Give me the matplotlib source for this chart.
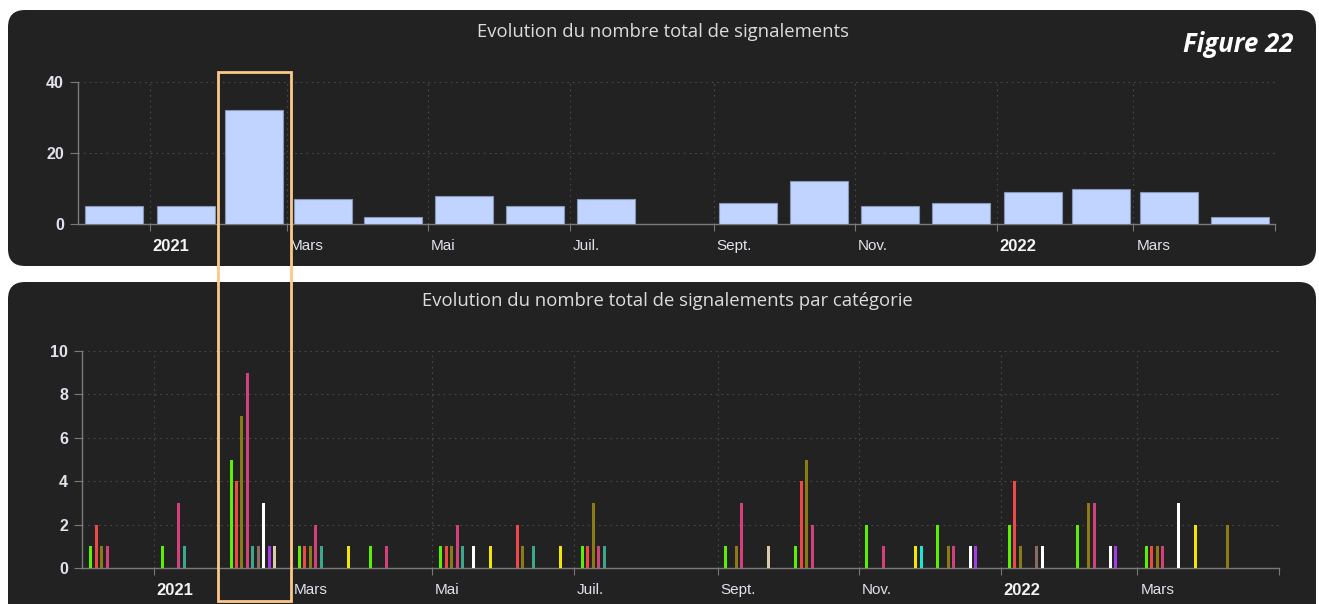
import datetime as dt

import matplotlib
matplotlib.use("Agg")
import matplotlib.pyplot as plt
import matplotlib.dates as mdates
from matplotlib.patches import FancyBboxPatch, Rectangle
from matplotlib.transforms import IdentityTransform, ScaledTranslation

# ---------------------------------------------------------------- data
mois = ["2020-12", "2021-01", "2021-02", "2021-03", "2021-04", "2021-05",
        "2021-06", "2021-07", "2021-08", "2021-09", "2021-10", "2021-11",
        "2021-12", "2022-01", "2022-02", "2022-03", "2022-04"]

total_signalements = [5, 5, 32, 7, 2, 8, 5, 7, 0, 6, 12, 5, 6, 9, 10, 9, 2]

# signalements par catégorie et par mois
cat_vert   = [1, 1, 5, 1, 1, 1, 0, 1, 0, 1, 1, 2, 2, 2, 2, 1, 0]
cat_rouge  = [2, 0, 4, 1, 0, 1, 2, 1, 0, 0, 4, 0, 0, 4, 0, 1, 0]
cat_olive  = [1, 0, 7, 1, 0, 1, 1, 3, 0, 1, 5, 0, 1, 1, 3, 1, 2]
cat_rose   = [1, 3, 9, 2, 1, 2, 0, 1, 0, 3, 2, 1, 1, 0, 3, 1, 0]
cat_sarcelle = [0, 1, 1, 1, 0, 1, 1, 1, 0, 0, 0, 0, 0, 0, 0, 0, 0]
cat_brun   = [0, 0, 1, 0, 0, 0, 0, 0, 0, 0, 0, 0, 0, 1, 0, 0, 0]
cat_blanc  = [0, 0, 3, 0, 0, 1, 0, 0, 0, 0, 0, 0, 1, 1, 1, 3, 0]
cat_violet = [0, 0, 1, 0, 0, 0, 0, 0, 0, 0, 0, 0, 1, 0, 1, 0, 0]
cat_beige  = [0, 0, 1, 0, 0, 0, 0, 0, 0, 1, 0, 0, 0, 0, 0, 0, 0]
cat_jaune  = [0, 0, 0, 1, 0, 1, 1, 0, 0, 0, 0, 1, 0, 0, 0, 2, 0]
cat_cyan   = [0, 0, 0, 0, 0, 0, 0, 0, 0, 0, 0, 1, 0, 0, 0, 0, 0]

tick_dates = ["2021-01", "2021-03", "2021-05", "2021-07", "2021-09",
              "2021-11", "2022-01", "2022-03", "2022-05"]
tick_labels = ["2021", "Mars", "Mai", "Juil.", "Sept.", "Nov.", "2022", "Mars", ""]

# ---------------------------------------------------------------- styles
series = [
    (cat_vert, "#5cf000"),
    (cat_rouge, "#f04848"),
    (cat_olive, "#8c7a14"),
    (cat_rose, "#d4407c"),
    (cat_sarcelle, "#3aa88a"),
    (cat_brun, "#8a6c64"),
    (cat_blanc, "#ffffff"),
    (cat_violet, "#a43ce6"),
    (cat_beige, "#d9cca6"),
    (cat_jaune, "#f2e600"),
    (cat_cyan, "#1ee6d2"),
]

W, H = 1319, 604
PANEL = "#222222"
TXT = "#dcdcdc"
TICK_TXT = "#e2e2ee"
GRID = "#4a4a4a"
AXIS = "#7a7a7a"

plt.rcParams["font.family"] = ["Liberation Sans", "DejaVu Sans"]


def month_start(s):
    y, m = map(int, s.split("-"))
    return dt.date(y, m, 1)


def next_month(d):
    return dt.date(d.year + (d.month // 12), d.month % 12 + 1, 1)


starts = [month_start(m) for m in mois]
ends = [next_month(d) for d in starts]
centers = [mdates.date2num(a) + (mdates.date2num(b) - mdates.date2num(a)) / 2
           for a, b in zip(starts, ends)]
x_min = mdates.date2num(dt.date(2020, 12, 1))
x_max = mdates.date2num(dt.date(2022, 5, 1))
ticks = [mdates.date2num(month_start(t)) for t in tick_dates]


def frac(x0, y0, x1, y1):
    return [x0 / W, 1 - y1 / H, (x1 - x0) / W, (y1 - y0) / H]


fig = plt.figure(figsize=(W / 100, H / 100), dpi=100, facecolor="white")

# dark rounded panels
for (x0, y0, x1, y1) in [(8, 10, 1316, 266), (8, 282, 1316, 640)]:
    fig.add_artist(FancyBboxPatch((x0, H - y1), x1 - x0, y1 - y0,
                                  boxstyle="round,pad=0,rounding_size=17",
                                  transform=IdentityTransform(),
                                  facecolor=PANEL, edgecolor="none", zorder=-5))


def style_axes(ax, ymax, ystep):
    ax.set_facecolor("none")
    ax.set_xlim(x_min, x_max)
    ax.set_ylim(0, ymax)
    ax.set_yticks(range(0, ymax + 1, ystep))
    ax.set_xticks(ticks)
    ax.set_xticklabels(tick_labels)
    for s in ("top", "right"):
        ax.spines[s].set_visible(False)
    for s in ("left", "bottom"):
        ax.spines[s].set_color(AXIS)
        ax.spines[s].set_linewidth(1.0)
    ax.tick_params(axis="x", colors=AXIS, length=5, width=0.8, pad=6,
                   labelcolor=TICK_TXT, labelsize=11)
    ax.tick_params(axis="y", colors=AXIS, length=6, width=0.8, pad=4,
                   labelcolor=TICK_TXT, labelsize=11.5)
    for lab, txt in zip(ax.get_xticklabels(), tick_labels):
        lab.set_horizontalalignment("left")
        lab.set_transform(lab.get_transform() + ScaledTranslation(2 / 72, 0, fig.dpi_scale_trans))
        if txt.isdigit():
            lab.set_fontweight("bold")
            lab.set_fontsize(12)
            lab.set_color("#f4f4f4")
    for lab in ax.get_yticklabels():
        lab.set_fontweight("bold")
    ax.grid(True, color=GRID, linestyle=(0, (1.5, 3.5)), linewidth=0.8)
    ax.set_axisbelow(True)


# ---------------------------------------------------------------- top chart
ax1 = fig.add_axes(frac(78, 82, 1275, 224))
style_axes(ax1, 40, 20)
xs = [c for c, v in zip(centers, total_signalements) if v > 0]
vs = [v for v in total_signalements if v > 0]
ax1.bar(xs, vs, width=25, color="#c0d4ff", edgecolor="#8797b8", linewidth=0.8, zorder=3)

# ---------------------------------------------------------------- bottom chart
ax2 = fig.add_axes(frac(82, 351, 1279, 568))
style_axes(ax2, 10, 2)
slot = 2.35
bar_w = 1.3
n = len(series)
for i, (vals, col) in enumerate(series):
    off = (i - (n - 1) / 2) * slot
    bx = [c + off for c, v in zip(centers, vals) if v > 0]
    bv = [v for v in vals if v > 0]
    ax2.bar(bx, bv, width=bar_w, color=col, edgecolor="none", zorder=3)

# ---------------------------------------------------------------- texts
fig.text(663 / W, 1 - 32 / H, "Evolution du nombre total de signalements",
         ha="center", va="center", color=TXT, fontsize=13.3, family=["Open Sans", "DejaVu Sans"])
fig.text(667 / W, 1 - 301 / H, "Evolution du nombre total de signalements par catégorie",
         ha="center", va="center", color=TXT, fontsize=13.3, family=["Open Sans", "DejaVu Sans"])
fig.text(1293 / W, 1 - 44 / H, "Figure 22", ha="right", va="center", color="white",
         fontsize=18.5, fontweight="bold", style="italic", family=["Open Sans", "DejaVu Sans"])

# highlight frame around February 2021
fig.add_artist(Rectangle((217.5, H - 601), 73.5, 529, transform=IdentityTransform(),
                         facecolor="none", edgecolor="#fcc88a", linewidth=2.0, zorder=10))

fig.savefig("out.png", dpi=100, facecolor="white")
